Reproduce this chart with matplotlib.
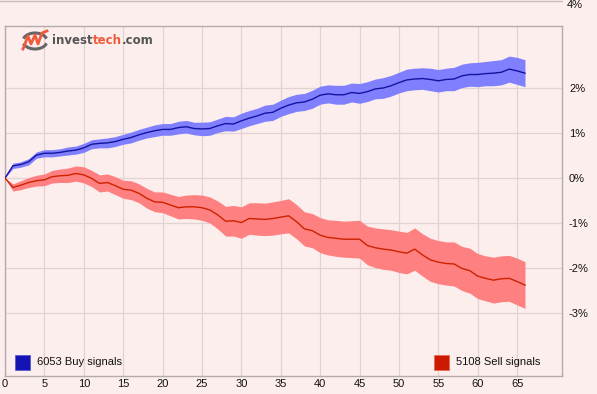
import matplotlib
matplotlib.use("Agg")
import matplotlib.pyplot as plt
from matplotlib.lines import Line2D
from matplotlib.patches import Rectangle
import numpy as np

days = list(range(67))

buy_mean = [0.00, 0.27, 0.30, 0.36, 0.51, 0.55, 0.55, 0.57, 0.60, 0.62,
            0.67, 0.75, 0.77, 0.78, 0.81, 0.86, 0.90, 0.96, 1.01, 1.05,
            1.08, 1.08, 1.12, 1.14, 1.10, 1.09, 1.10, 1.16, 1.21, 1.20,
            1.27, 1.33, 1.38, 1.44, 1.46, 1.55, 1.62, 1.67, 1.69, 1.75,
            1.84, 1.87, 1.85, 1.85, 1.90, 1.88, 1.92, 1.98, 2.00, 2.05,
            2.12, 2.18, 2.20, 2.21, 2.19, 2.16, 2.19, 2.20, 2.27, 2.30,
            2.30, 2.32, 2.33, 2.35, 2.42, 2.38, 2.33]

buy_halfwidth = [0.00, 0.06, 0.06, 0.07, 0.07, 0.08, 0.08, 0.08, 0.09, 0.09,
                 0.10, 0.10, 0.10, 0.11, 0.11, 0.11, 0.12, 0.12, 0.12, 0.13,
                 0.13, 0.13, 0.14, 0.14, 0.14, 0.15, 0.15, 0.15, 0.16, 0.16,
                 0.17, 0.17, 0.17, 0.18, 0.18, 0.18, 0.19, 0.19, 0.19, 0.20,
                 0.20, 0.20, 0.21, 0.21, 0.21, 0.22, 0.22, 0.22, 0.23, 0.23,
                 0.23, 0.24, 0.24, 0.24, 0.25, 0.25, 0.25, 0.26, 0.26, 0.26,
                 0.27, 0.27, 0.28, 0.28, 0.29, 0.30, 0.30]

sell_mean = [0.00, -0.21, -0.16, -0.10, -0.06, -0.04, 0.03, 0.05, 0.06, 0.10,
             0.07, -0.01, -0.12, -0.10, -0.17, -0.25, -0.27, -0.34, -0.45, -0.53,
             -0.54, -0.60, -0.66, -0.64, -0.64, -0.66, -0.71, -0.82, -0.96, -0.95,
             -0.99, -0.90, -0.91, -0.92, -0.90, -0.87, -0.84, -0.97, -1.13, -1.17,
             -1.27, -1.32, -1.34, -1.36, -1.36, -1.36, -1.50, -1.55, -1.58, -1.60,
             -1.64, -1.67, -1.58, -1.71, -1.82, -1.87, -1.90, -1.91, -2.01, -2.06,
             -2.18, -2.23, -2.27, -2.24, -2.23, -2.30, -2.38]

sell_halfwidth = [0.00, 0.08, 0.10, 0.11, 0.12, 0.13, 0.14, 0.15, 0.16, 0.17,
                  0.18, 0.18, 0.19, 0.19, 0.20, 0.20, 0.21, 0.21, 0.22, 0.22,
                  0.23, 0.24, 0.25, 0.26, 0.27, 0.28, 0.29, 0.31, 0.33, 0.34,
                  0.35, 0.35, 0.36, 0.36, 0.37, 0.37, 0.38, 0.38, 0.38, 0.38,
                  0.39, 0.39, 0.40, 0.40, 0.41, 0.42, 0.43, 0.44, 0.45, 0.45,
                  0.46, 0.46, 0.47, 0.47, 0.48, 0.48, 0.48, 0.49, 0.49, 0.50,
                  0.50, 0.50, 0.51, 0.51, 0.51, 0.52, 0.52]

x_ticks = [0, 5, 10, 15, 20, 25, 30, 35, 40, 45, 50, 55, 60, 65]
y_ticks = [2, 1, 0, -1, -2, -3]
y_top_label = "4%"
buy_label = "6053 Buy signals"
sell_label = "5108 Sell signals"

BG = "#FDEEEE"
GRID = "#E2D2D2"
FRAME = "#B5ABAB"
FONT = "Liberation Sans"

W, H = 597, 394
fig = plt.figure(figsize=(W / 100, H / 100), dpi=100, facecolor=BG)
ax = fig.add_axes([5 / W, 18 / H, (562 - 5) / W, (376 - 26) / H])
ax.set_facecolor(BG)
ax.set_xlim(0, 70.7)
ax.set_ylim(-4.4, 3.378)

for s in ax.spines.values():
    s.set_color(FRAME)
    s.set_linewidth(1.0)

ax.set_xticks(x_ticks)
ax.set_xticklabels([str(v) for v in x_ticks], fontsize=8, family=FONT)
ax.set_yticks(y_ticks)
ax.set_yticklabels([f"{v}%" for v in y_ticks], fontsize=8, family=FONT)
ax.yaxis.tick_right()
ax.tick_params(axis="both", length=0, colors="#111111")
ax.tick_params(axis="y", pad=5)
ax.tick_params(axis="x", pad=2)
ax.grid(True, color=GRID, linewidth=0.9)
ax.set_axisbelow(True)

d = np.array(days)
bm = np.array(buy_mean); bh = np.array(buy_halfwidth)
sm = np.array(sell_mean); sh = np.array(sell_halfwidth)

ax.fill_between(d, bm - bh, bm + bh, color="#8080FF", linewidth=0, zorder=2)
ax.fill_between(d, sm - sh, sm + sh, color="#FF8080", linewidth=0, zorder=2)
ax.plot(d, bm, color="#1414A0", linewidth=1.0, zorder=3)
ax.plot(d, sm, color="#CC2200", linewidth=1.0, zorder=3)

# 4% label and line above the frame
fig.text(567 / W, 1.0, y_top_label, fontsize=8, family=FONT, color="#111111",
         ha="left", va="top")
fig.add_artist(Line2D([0, 562 / W], [1 - 1 / H, 1 - 1 / H], color="#C8BEBE",
                      linewidth=1.0, transform=fig.transFigure))

# legend squares and labels
fig.add_artist(Rectangle((15 / W, 1 - 370 / H), 15 / W, 15 / H,
                         facecolor="#1414B4", edgecolor="#5A5AD0", linewidth=0.6,
                         transform=fig.transFigure))
fig.text(37 / W, 1 - 362 / H, buy_label, fontsize=8, family=FONT,
         color="#111111", ha="left", va="center")
fig.add_artist(Rectangle((434 / W, 1 - 370 / H), 15 / W, 15 / H,
                         facecolor="#CC1A00", edgecolor="#E86A50", linewidth=0.6,
                         transform=fig.transFigure))
fig.text(456 / W, 1 - 362 / H, sell_label, fontsize=8, family=FONT,
         color="#111111", ha="left", va="center")

# logo
fx = lambda px: px / W
fy = lambda py: 1 - py / H
th = np.linspace(0.15 * np.pi, 0.85 * np.pi, 30)
cx, cy, rx, ry = 35, 41, 12, 8
fig.add_artist(Line2D(fx(cx + rx * np.cos(th)), fy(cy - ry * np.sin(th)),
                      color="#666666", linewidth=2.2, transform=fig.transFigure))
fig.add_artist(Line2D(fx(cx + rx * np.cos(th)), fy(cy + ry * np.sin(th)),
                      color="#666666", linewidth=2.2, transform=fig.transFigure))
zx = [23, 28, 31, 35, 38, 42, 47]
zy = [49, 36, 44, 35, 44, 33, 31]
fig.add_artist(Line2D(fx(np.array(zx)), fy(np.array(zy)), color="#F05A3A",
                      linewidth=2.0, transform=fig.transFigure))

t1 = fig.text(52 / W, fy(41), "invest", fontsize=8.5, fontweight="bold",
              family="DejaVu Sans", color="#555555", ha="left", va="center")
fig.canvas.draw()
r = fig.canvas.get_renderer()
bb = t1.get_window_extent(r)
t2 = fig.text(bb.x1 / W, fy(41), "tech", fontsize=8.5, fontweight="bold",
              family="DejaVu Sans", color="#F05A3A", ha="left", va="center")
bb2 = t2.get_window_extent(r)
fig.text(bb2.x1 / W, fy(41), ".com", fontsize=8.5, fontweight="bold",
         family="DejaVu Sans", color="#555555", ha="left", va="center")

fig.savefig("out.png", dpi=100, facecolor=BG)
